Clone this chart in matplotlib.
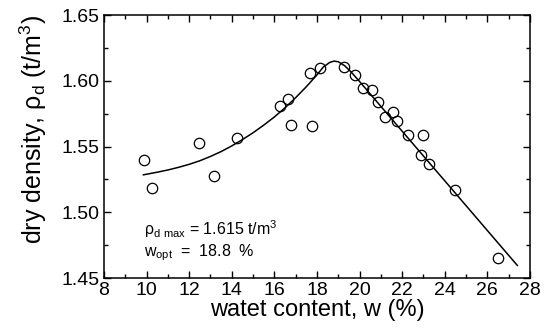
import numpy as np
import matplotlib
matplotlib.use("Agg")
import matplotlib.pyplot as plt
from matplotlib.ticker import MultipleLocator, FormatStrFormatter

# measured points: water content (%) and dry density (t/m3)
w_pts = [9.88, 10.26, 12.46, 13.18, 14.26, 16.26, 16.65, 16.78, 17.66, 17.76,
         18.16, 19.28, 19.77, 20.17, 20.59, 20.87, 21.18, 21.57, 21.75, 22.26,
         22.88, 22.96, 23.27, 24.47, 26.48]
rho_pts = [1.5396, 1.5186, 1.5525, 1.5277, 1.5568, 1.5809, 1.5859, 1.5665, 1.6060, 1.5657,
           1.6095, 1.6108, 1.6044, 1.5948, 1.5928, 1.5837, 1.5725, 1.5761, 1.5695, 1.5589,
           1.5437, 1.5589, 1.5366, 1.5166, 1.4654]

# fitted compaction curve
w_fit = [9.85, 10.5, 11.0, 11.5, 12.0, 12.5, 13.0, 13.5, 14.0, 14.5, 15.0, 15.5,
         16.0, 16.5, 17.0, 17.5, 18.0, 18.3, 18.6, 18.8, 19.0, 19.3, 19.6, 20.0,
         22.0, 24.0, 26.0, 27.41]
rho_fit = [1.5285, 1.5305, 1.5322, 1.5342, 1.5365, 1.5392, 1.5425, 1.5462, 1.5505, 1.5553,
           1.5605, 1.5663, 1.5725, 1.5795, 1.5872, 1.5955, 1.6045, 1.6105, 1.6140, 1.6150,
           1.6145, 1.6115, 1.6068, 1.5995, 1.5617, 1.5240, 1.4862, 1.4596]

plt.rcParams["font.family"] = ["Liberation Sans", "DejaVu Sans"]
plt.rcParams["mathtext.default"] = "regular"

fig = plt.figure(figsize=(5.46, 3.35), dpi=100)
ax = fig.add_axes([0.1905, 0.170, 0.780, 0.785])

ax.plot(w_fit, rho_fit, color="black", lw=1.1)
ax.plot(w_pts, rho_pts, "o", mfc="none", mec="black", ms=7.5, mew=0.9)

ax.set_xlim(8, 28)
ax.set_ylim(1.45, 1.65)
ax.xaxis.set_major_locator(MultipleLocator(2))
ax.xaxis.set_minor_locator(MultipleLocator(1))
ax.yaxis.set_major_locator(MultipleLocator(0.05))
ax.yaxis.set_minor_locator(MultipleLocator(0.025))
ax.yaxis.set_major_formatter(FormatStrFormatter("%.2f"))
ax.tick_params(which="both", direction="in", top=True, right=True, width=1)
ax.tick_params(which="major", length=5, labelsize=14, pad=3)
ax.tick_params(which="minor", length=3)
for s in ax.spines.values():
    s.set_linewidth(1.1)

ax.set_xlabel("watet content, w (%)", fontsize=17, labelpad=0)
ax.set_ylabel(r"dry density, $\rho_d$ (t/m$^3$)", fontsize=18)
ax.yaxis.set_label_coords(-0.13, 0.565)

ax.text(9.9, 1.487, r"$\rho_{d\ max}$ = 1.615 t/m$^3$", fontsize=11.5, va="center")
ax.text(9.9, 1.469, r"$w_{opt}$  =  18.8  %", fontsize=11.5, va="center")

fig.savefig("out.png", dpi=100)
